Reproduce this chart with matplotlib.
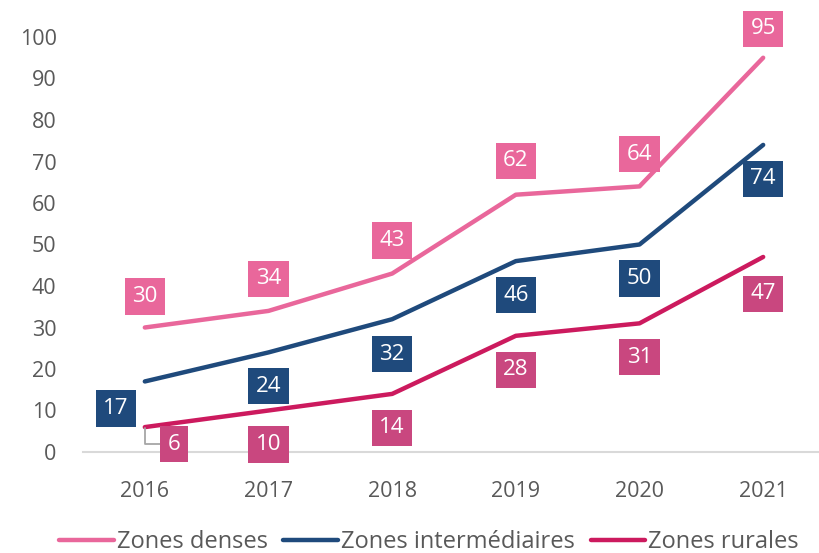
import matplotlib
matplotlib.use("Agg")
import matplotlib.pyplot as plt

plt.rcParams['font.family'] = ['Open Sans', 'DejaVu Sans']

years = ['2016', '2017', '2018', '2019', '2020', '2021']
denses = [30, 34, 43, 62, 64, 95]
intermediaires = [17, 24, 32, 46, 50, 74]
rurales = [6, 10, 14, 28, 31, 47]
series_names = ['Zones denses', 'Zones intermédiaires', 'Zones rurales']

c_dense = '#E9679B'
c_inter = '#1F4A7C'
c_rural = '#CC1A5E'
c_rural_box = '#C9477F'

# label offsets in pixels (dx, dy)
off_dense = [(0, 31), (0, 32), (0, 33), (0, 34), (0, 32), (0, 29)]
off_inter = [(-29, -27), (0, -34), (0, -35), (0, -34), (0, -34), (0, -34)]
off_rural = [(29, -17), (0, -34), (0, -34), (0, -34), (0, -34), (0, -37)]

W, H = 819, 553
fig = plt.figure(figsize=(W / 100, H / 100), dpi=100)
ax = fig.add_axes([83 / W, (H - 452) / H, (825 - 83) / W, 415 / H])

x = list(range(len(years)))
ax.plot(x, denses, color=c_dense, lw=3.2, solid_capstyle='round', label=series_names[0])
ax.plot(x, intermediaires, color=c_inter, lw=3.2, solid_capstyle='round', label=series_names[1])
ax.plot(x, rurales, color=c_rural, lw=3.2, solid_capstyle='round', label=series_names[2])

def labels(vals, offs, boxcol, leader_idx=None):
    for i, (v, o) in enumerate(zip(vals, offs)):
        kw = {}
        if i == leader_idx:
            kw['arrowprops'] = dict(arrowstyle='-', color='#A6A6A6', lw=1.3,
                                    connectionstyle='angle,angleA=0,angleB=90,rad=0',
                                    shrinkA=0, shrinkB=1)
        ax.annotate(str(v), xy=(i, v), xytext=o, textcoords='offset pixels',
                    ha='center', va='center', color='white', fontsize=16,
                    bbox=dict(boxstyle='square,pad=0.34', fc=boxcol, ec='none'),
                    zorder=5, annotation_clip=False, **kw)

labels(denses, off_dense, c_dense)
labels(intermediaires, off_inter, c_inter)
labels(rurales, off_rural, c_rural_box, leader_idx=0)

ax.set_xlim(-0.5, 5.5)
ax.set_ylim(0, 100)
ax.set_xticks(x)
ax.set_xticklabels(years)
ax.set_yticks(range(0, 101, 10))
for s in ['top', 'right', 'left']:
    ax.spines[s].set_visible(False)
ax.spines['bottom'].set_color('#D9D9D9')
ax.spines['bottom'].set_linewidth(1.5)
ax.tick_params(axis='x', length=0, pad=21, labelsize=15.5, colors='#595959')
ax.tick_params(axis='y', length=0, pad=19, labelsize=15.5, colors='#595959')

fig.legend(loc='center', bbox_to_anchor=(0.524, 0.02), ncol=3, frameon=False,
           fontsize=17, handlelength=2.3, handletextpad=0.15, columnspacing=0.65,
           labelcolor='#595959', borderpad=0, borderaxespad=0)

fig.savefig('out.png', dpi=100)
